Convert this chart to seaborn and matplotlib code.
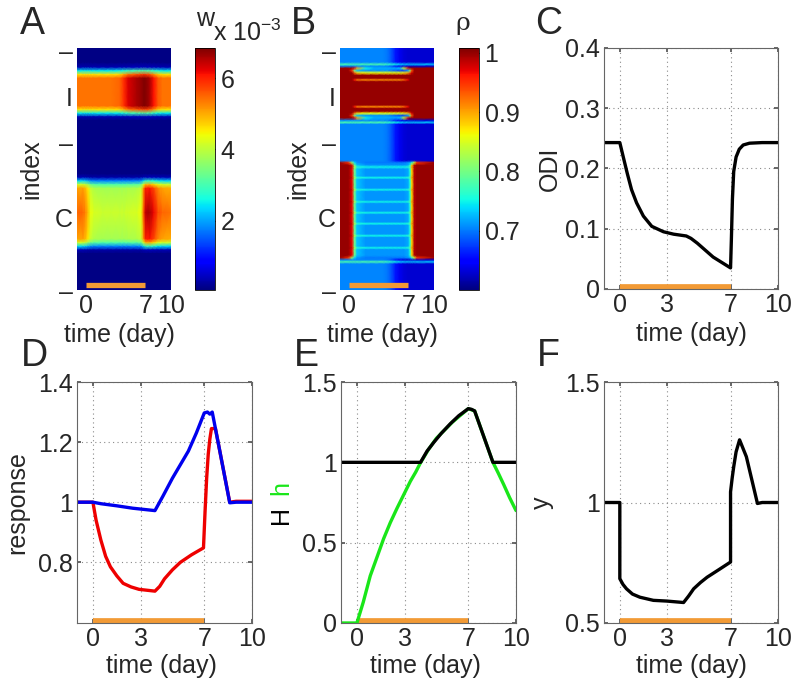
import numpy as np
import matplotlib
matplotlib.use("Agg")
import matplotlib.pyplot as plt
import seaborn as sns

sns.set_theme(style="white")
plt.rcParams['font.family'] = ['Liberation Sans', 'DejaVu Sans']
plt.rcParams['mathtext.fontset'] = 'custom'
plt.rcParams['mathtext.rm'] = 'Liberation Sans'

FS = 18
ORANGE = '#F29A35'
GREEN = '#19E619'

# ---------------- data ----------------
stim = [0, 7]

# Panel A: w (x 1e-3), built from band amplitudes over time and band row profiles
time_A = [-1, -0.3, 0, 0.3, 0.6, 1, 2, 3, 4, 4.5, 5, 6, 6.5, 6.8, 7, 7.5, 8, 8.5, 9, 10]
amp_I = [5.3, 5.3, 5.3, 5.3, 5.3, 5.3, 5.3, 5.3, 5.4, 5.8, 6.2, 6.5, 6.6, 6.7, 6.7, 6.5, 6.0, 5.5, 5.3, 5.3]
amp_C = [5.4, 5.4, 5.2, 4.8, 4.3, 4.1, 4.0, 4.0, 4.0, 4.0, 4.05, 4.1, 4.3, 5.5, 6.4, 6.5, 6.1, 5.6, 5.4, 5.3]
index_A = [0, 6, 8, 9.5, 11, 12.5, 18, 24, 25.5, 27, 28.5, 30, 42, 52, 53.5, 55, 56.5, 58, 68, 79, 80.5, 82, 83.5, 85, 100]
prof_I = [0, 0, 0.05, 0.45, 0.85, 1, 1, 1, 0.85, 0.45, 0.05, 0, 0, 0, 0, 0, 0, 0, 0, 0, 0, 0, 0, 0, 0]
prof_C = [0, 0, 0, 0, 0, 0, 0, 0, 0, 0, 0, 0, 0, 0, 0.05, 0.42, 0.75, 0.92, 1, 0.92, 0.75, 0.42, 0.05, 0, 0]
w_floor = 0.1

# Panel B: rho, rows of typed time courses
time_B = [-1, 0, 0.4, 0.7, 1, 2, 3, 4, 4.5, 5, 5.5, 6, 6.5, 7, 7.2, 7.4, 7.7, 8, 10]
rho_types = {
    'bg':     [.705, .705, .705, .705, .705, .705, .705, .705, .70, .685, .66, .64, .632, .63, .63, .63, .63, .63, .63],
    'cyan':   [.78, .78, .78, .78, .78, .78, .78, .78, .77, .76, .75, .74, .73, .73, .73, .73, .73, .73, .73],
    'red':    [1] * 19,
    'lens':   [1, 1, .95, .80, .73, .71, .71, .71, .71, .70, .69, .68, .68, .72, .80, .93, 1, 1, 1],
    'lens_n': [1, 1, 1, .97, .90, .75, .72, .72, .72, .72, .72, .73, .85, .97, 1, 1, 1, 1, 1],
    'rim':    [1, 1, 1, .93, .88, .86, .86, .86, .86, .86, .86, .86, .87, .90, .94, .98, 1, 1, 1],
    'oline':  [1, 1, 1, .96, .92, .91, .91, .91, .91, .91, .91, .91, .93, .97, 1, 1, 1, 1, 1],
    'C':      [1, 1, .97, .80, .73, .71, .71, .71, .71, .71, .71, .71, .71, .72, .76, .88, .99, 1, 1],
    'Cline':  [1, 1, .98, .83, .76, .75, .75, .75, .75, .75, .75, .75, .75, .76, .79, .90, .99, 1, 1],
    'Cedge':  [1, .95, .82, .74, .71, .70, .70, .70, .70, .70, .70, .70, .70, .71, .72, .76, .85, .95, 1],
}
index_B = [0, 6.0, 6.8, 7.6, 8.4, 9.4, 10.4, 11.3, 12.6, 13.3, 14.0, 23.7, 24.4, 25.1, 26.3, 27.0, 28.0, 29.0,
           30.0, 30.8, 31.6, 46.6, 47.5, 48.5, 49.3, 50.1, 53.0, 53.7, 54.4, 58.0, 58.7, 59.4, 63.0, 63.7, 64.4,
           67.5, 68.2, 68.9, 72.0, 72.7, 73.4, 77.0, 77.7, 78.4, 82.0, 82.7, 83.4, 85.8, 86.8, 87.7, 88.5, 89.3, 100]
rowtype_B = ['bg', 'bg', 'cyan', 'bg', 'lens_n', 'lens', 'rim', 'red', 'red', 'oline', 'red', 'red', 'oline', 'red',
             'red', 'rim', 'lens', 'lens_n', 'bg', 'cyan', 'bg', 'bg', 'Cedge', 'C', 'Cline', 'C', 'C', 'Cline', 'C',
             'C', 'Cline', 'C', 'C', 'Cline', 'C', 'C', 'Cline', 'C', 'C', 'Cline', 'C', 'C', 'Cline', 'C',
             'C', 'Cline', 'C', 'C', 'Cedge', 'bg', 'cyan', 'bg', 'bg']

heat_yticks = [1, 20, 39, 70, 100]
heat_yticklabels = ['\u2013', 'I', '\u2013', 'C', '\u2013']
heat_xticks = [0, 7, 10]

# Panel C: ODI
t_C = [-1, 0, 0.21, 0.47, 0.74, 1.06, 1.49, 2.02, 2.76, 3.4, 4.2, 4.5, 4.9, 5.9, 7.0, 7.05, 7.12, 7.2, 7.35, 7.55, 7.8, 8.2, 9, 10]
odi = [0.243, 0.243, 0.220, 0.192, 0.165, 0.143, 0.121, 0.104, 0.095, 0.091, 0.088, 0.084, 0.076, 0.053, 0.035,
       0.08, 0.15, 0.195, 0.219, 0.232, 0.239, 0.242, 0.243, 0.243]

# Panel D: response
t_blue = [-1, 0, 0.5, 1.5, 2.5, 3.9, 4.4, 5.0, 6.0, 6.5, 7.0, 7.2, 7.35, 7.5, 8.0, 8.6, 9, 10]
resp_blue = [1, 1, 0.995, 0.988, 0.98, 0.972, 1.02, 1.08, 1.17, 1.23, 1.297, 1.30, 1.293, 1.30, 1.164, 0.998, 1.0, 1.0]
t_red = [-1, 0, 0.2, 0.5, 0.8, 1.1, 1.5, 1.9, 2.4, 2.9, 3.9, 4.2, 4.5, 5.0, 5.5, 6.2, 6.95, 7.05, 7.15, 7.25, 7.35,
         7.45, 7.7, 8.6, 9, 10]
resp_red = [1, 1, 0.94, 0.874, 0.82, 0.785, 0.755, 0.73, 0.718, 0.71, 0.704, 0.72, 0.745, 0.775, 0.80, 0.825, 0.848,
            0.97, 1.08, 1.16, 1.21, 1.245, 1.245, 1.0, 1.003, 1.003]

# Panel E: h (green) and H (black)
t_h = [-1, 0, 0.4, 0.84, 1.3, 1.68, 2.1, 2.52, 3.0, 3.36, 3.7, 4.0, 4.5, 5, 6, 7, 7.4, 8.55, 8.9, 9.23, 9.6, 10]
h_val = [0, 0, 0.13, 0.294, 0.42, 0.525, 0.625, 0.714, 0.81, 0.882, 0.94, 0.998, 1.08, 1.15, 1.25, 1.334, 1.32,
         1.0, 0.93, 0.861, 0.78, 0.70]
t_H = [-1, 4.0, 4.41, 4.83, 5.3, 5.87, 6.4, 7.0, 7.2, 7.4, 8.55, 10]
H_val = [1, 1, 1.07, 1.124, 1.18, 1.24, 1.29, 1.334, 1.33, 1.32, 1.0, 1.0]

# Panel F: y
t_F = [-1, 0, 0, 0.2, 0.42, 0.8, 1.27, 2.12, 2.97, 4.03, 4.35, 4.67, 5.1, 5.52, 6.3, 7.0, 7.0, 7.1, 7.2, 7.35,
       7.57, 8.0, 8.7, 9, 10]
y_F = [1, 1, 0.684, 0.66, 0.642, 0.62, 0.607, 0.594, 0.591, 0.585, 0.612, 0.642, 0.668, 0.69, 0.723, 0.753, 1.044,
       1.10, 1.148, 1.21, 1.26, 1.19, 0.996, 1.0, 1.0]

line_xticks = [0, 3, 7, 10]

# ---------------- figure ----------------
fig = plt.figure(figsize=(8, 6.88), dpi=100)
W_PX, H_PX = 800, 688


def rect(x0, y0, x1, y1):
    return [x0 / W_PX, 1 - y1 / H_PX, (x1 - x0) / W_PX, (y1 - y0) / H_PX]


def heat_axes(ax):
    ax.set_xlim(-1, 10)
    ax.set_ylim(100, 0)
    ax.set_yticks(heat_yticks)
    ax.set_yticklabels(heat_yticklabels)
    ax.set_xticks(heat_xticks)
    ax.tick_params(axis='both', length=0, labelsize=FS, pad=3)
    for s in ax.spines.values():
        s.set_visible(False)
    ax.plot(stim, [98.1, 98.1], color=ORANGE, lw=3.8, solid_capstyle='butt')
    ax.set_xlabel('time (day)', fontsize=FS)
    ax.set_ylabel('index', fontsize=FS)
    ax.xaxis.set_label_coords(0.45, -0.135)


def cbar_style(cax):
    cax.tick_params(axis='y', direction='in', length=3, width=0.8, labelsize=FS, pad=4,
                    left=True, right=True, color='black')
    for s in cax.spines.values():
        s.set_linewidth(0.6)
        s.set_edgecolor('black')


# Panel A
axA = fig.add_axes(rect(77, 48, 171, 290))
Wmat = w_floor + np.outer(prof_I, amp_I) + np.outer(prof_C, amp_C)
mA = axA.pcolormesh(time_A, index_A, Wmat, shading='gouraud', cmap='jet', vmin=0.05, vmax=6.85)
heat_axes(axA)
axA.yaxis.set_label_coords(-0.36, 0.5)
caxA = fig.add_axes(rect(195, 48, 215, 290))
cbA = fig.colorbar(mA, cax=caxA, ticks=[2, 4, 6])
cbar_style(caxA)
cbA.outline.set_linewidth(0.6)
fig.text(196 / W_PX, 1 - 26 / H_PX, 'w', fontsize=FS, ha='left', va='baseline')
fig.text(213 / W_PX, 1 - 41 / H_PX, r'x 10$^{-3}$', fontsize=FS, ha='left', va='baseline')

# Panel B
axB = fig.add_axes(rect(340, 48, 434, 290))
Rmat = np.array([rho_types[k] for k in rowtype_B])
mB = axB.pcolormesh(time_B, index_B, Rmat, shading='gouraud', cmap='jet', vmin=0.6, vmax=1.008)
heat_axes(axB)
axB.yaxis.set_label_coords(-0.32, 0.5)
caxB = fig.add_axes(rect(459, 48, 479, 290))
cbB = fig.colorbar(mB, cax=caxB, ticks=[0.7, 0.8, 0.9, 1])
caxB.set_yticklabels(['0.7', '0.8', '0.9', '1'])
cbar_style(caxB)
cbB.outline.set_linewidth(0.6)
fig.text(463 / W_PX, 1 - 30 / H_PX, '\u03c1', fontsize=FS, ha='center', va='baseline', family='DejaVu Serif')


def line_axes(ax, ylim, yticks, yticklabels):
    ax.set_xlim(-1, 10)
    ax.set_ylim(*ylim)
    ax.set_xticks(line_xticks)
    ax.set_yticks(yticks)
    ax.set_yticklabels(yticklabels)
    ax.grid(True, color='#8a8a8a', linestyle=(0, (1, 3)), linewidth=0.8)
    ax.tick_params(axis='both', direction='in', length=3, labelsize=FS, pad=3, color='#555555',
                   bottom=True, left=True, top=True, right=True)
    for s in ax.spines.values():
        s.set_visible(True)
        s.set_edgecolor('#666666')
        s.set_linewidth(0.8)
    sns.lineplot(x=stim, y=[ylim[0], ylim[0]], ax=ax, color=ORANGE, lw=7, estimator=None, sort=False,
                 solid_capstyle='butt')
    ax.set_xlabel('time (day)', fontsize=FS)


LW = 2.4

# Panel C
axC = fig.add_axes(rect(604, 48, 778, 289))
line_axes(axC, (0, 0.4), [0, 0.1, 0.2, 0.3, 0.4], ['0', '0.1', '0.2', '0.3', '0.4'])
sns.lineplot(x=t_C, y=odi, ax=axC, color='black', lw=LW, estimator=None, sort=False)
axC.set_ylabel('ODI', fontsize=FS)
axC.yaxis.set_label_coords(-0.24, 0.5)
axC.xaxis.set_label_coords(0.5, -0.135)

# Panel D
axD = fig.add_axes(rect(77, 382, 252, 623))
line_axes(axD, (0.598, 1.4), [0.8, 1.0, 1.2, 1.4], ['0.8', '1', '1.2', '1.4'])
sns.lineplot(x=t_red, y=resp_red, ax=axD, color='#EE0000', lw=LW, estimator=None, sort=False)
sns.lineplot(x=t_blue, y=resp_blue, ax=axD, color='#0000EE', lw=LW, estimator=None, sort=False)
axD.set_ylabel('response', fontsize=FS)
axD.yaxis.set_label_coords(-0.27, 0.5)
axD.xaxis.set_label_coords(0.48, -0.13)

# Panel E
axE = fig.add_axes(rect(341, 382, 516, 623))
line_axes(axE, (0, 1.5), [0, 0.5, 1, 1.5], ['0', '0.5', '1', '1.5'])
sns.lineplot(x=t_h, y=h_val, ax=axE, color=GREEN, lw=LW, estimator=None, sort=False)
sns.lineplot(x=t_H, y=H_val, ax=axE, color='black', lw=LW, estimator=None, sort=False)
axE.xaxis.set_label_coords(0.48, -0.13)
fig.text(281 / W_PX, 1 - 515 / H_PX, 'H', fontsize=FS, rotation=90, ha='center', va='center', color='black')
fig.text(281 / W_PX, 1 - 488 / H_PX, 'h', fontsize=FS, rotation=90, ha='center', va='center', color=GREEN)

# Panel F
axF = fig.add_axes(rect(604, 382, 778, 623))
line_axes(axF, (0.5, 1.5), [0.5, 1, 1.5], ['0.5', '1', '1.5'])
sns.lineplot(x=t_F, y=y_F, ax=axF, color='black', lw=LW, estimator=None, sort=False)
axF.set_ylabel('y', fontsize=FS)
axF.yaxis.set_label_coords(-0.29, 0.5)
axF.xaxis.set_label_coords(0.5, -0.13)

# panel letters
for lab, x, y in [('A', 20, 34), ('B', 291, 34), ('C', 535, 34), ('D', 21, 366), ('E', 294, 366), ('F', 537, 366)]:
    fig.text(x / W_PX, 1 - y / H_PX, lab, fontsize=27, ha='left', va='baseline')

fig.savefig('out.png', dpi=100)
